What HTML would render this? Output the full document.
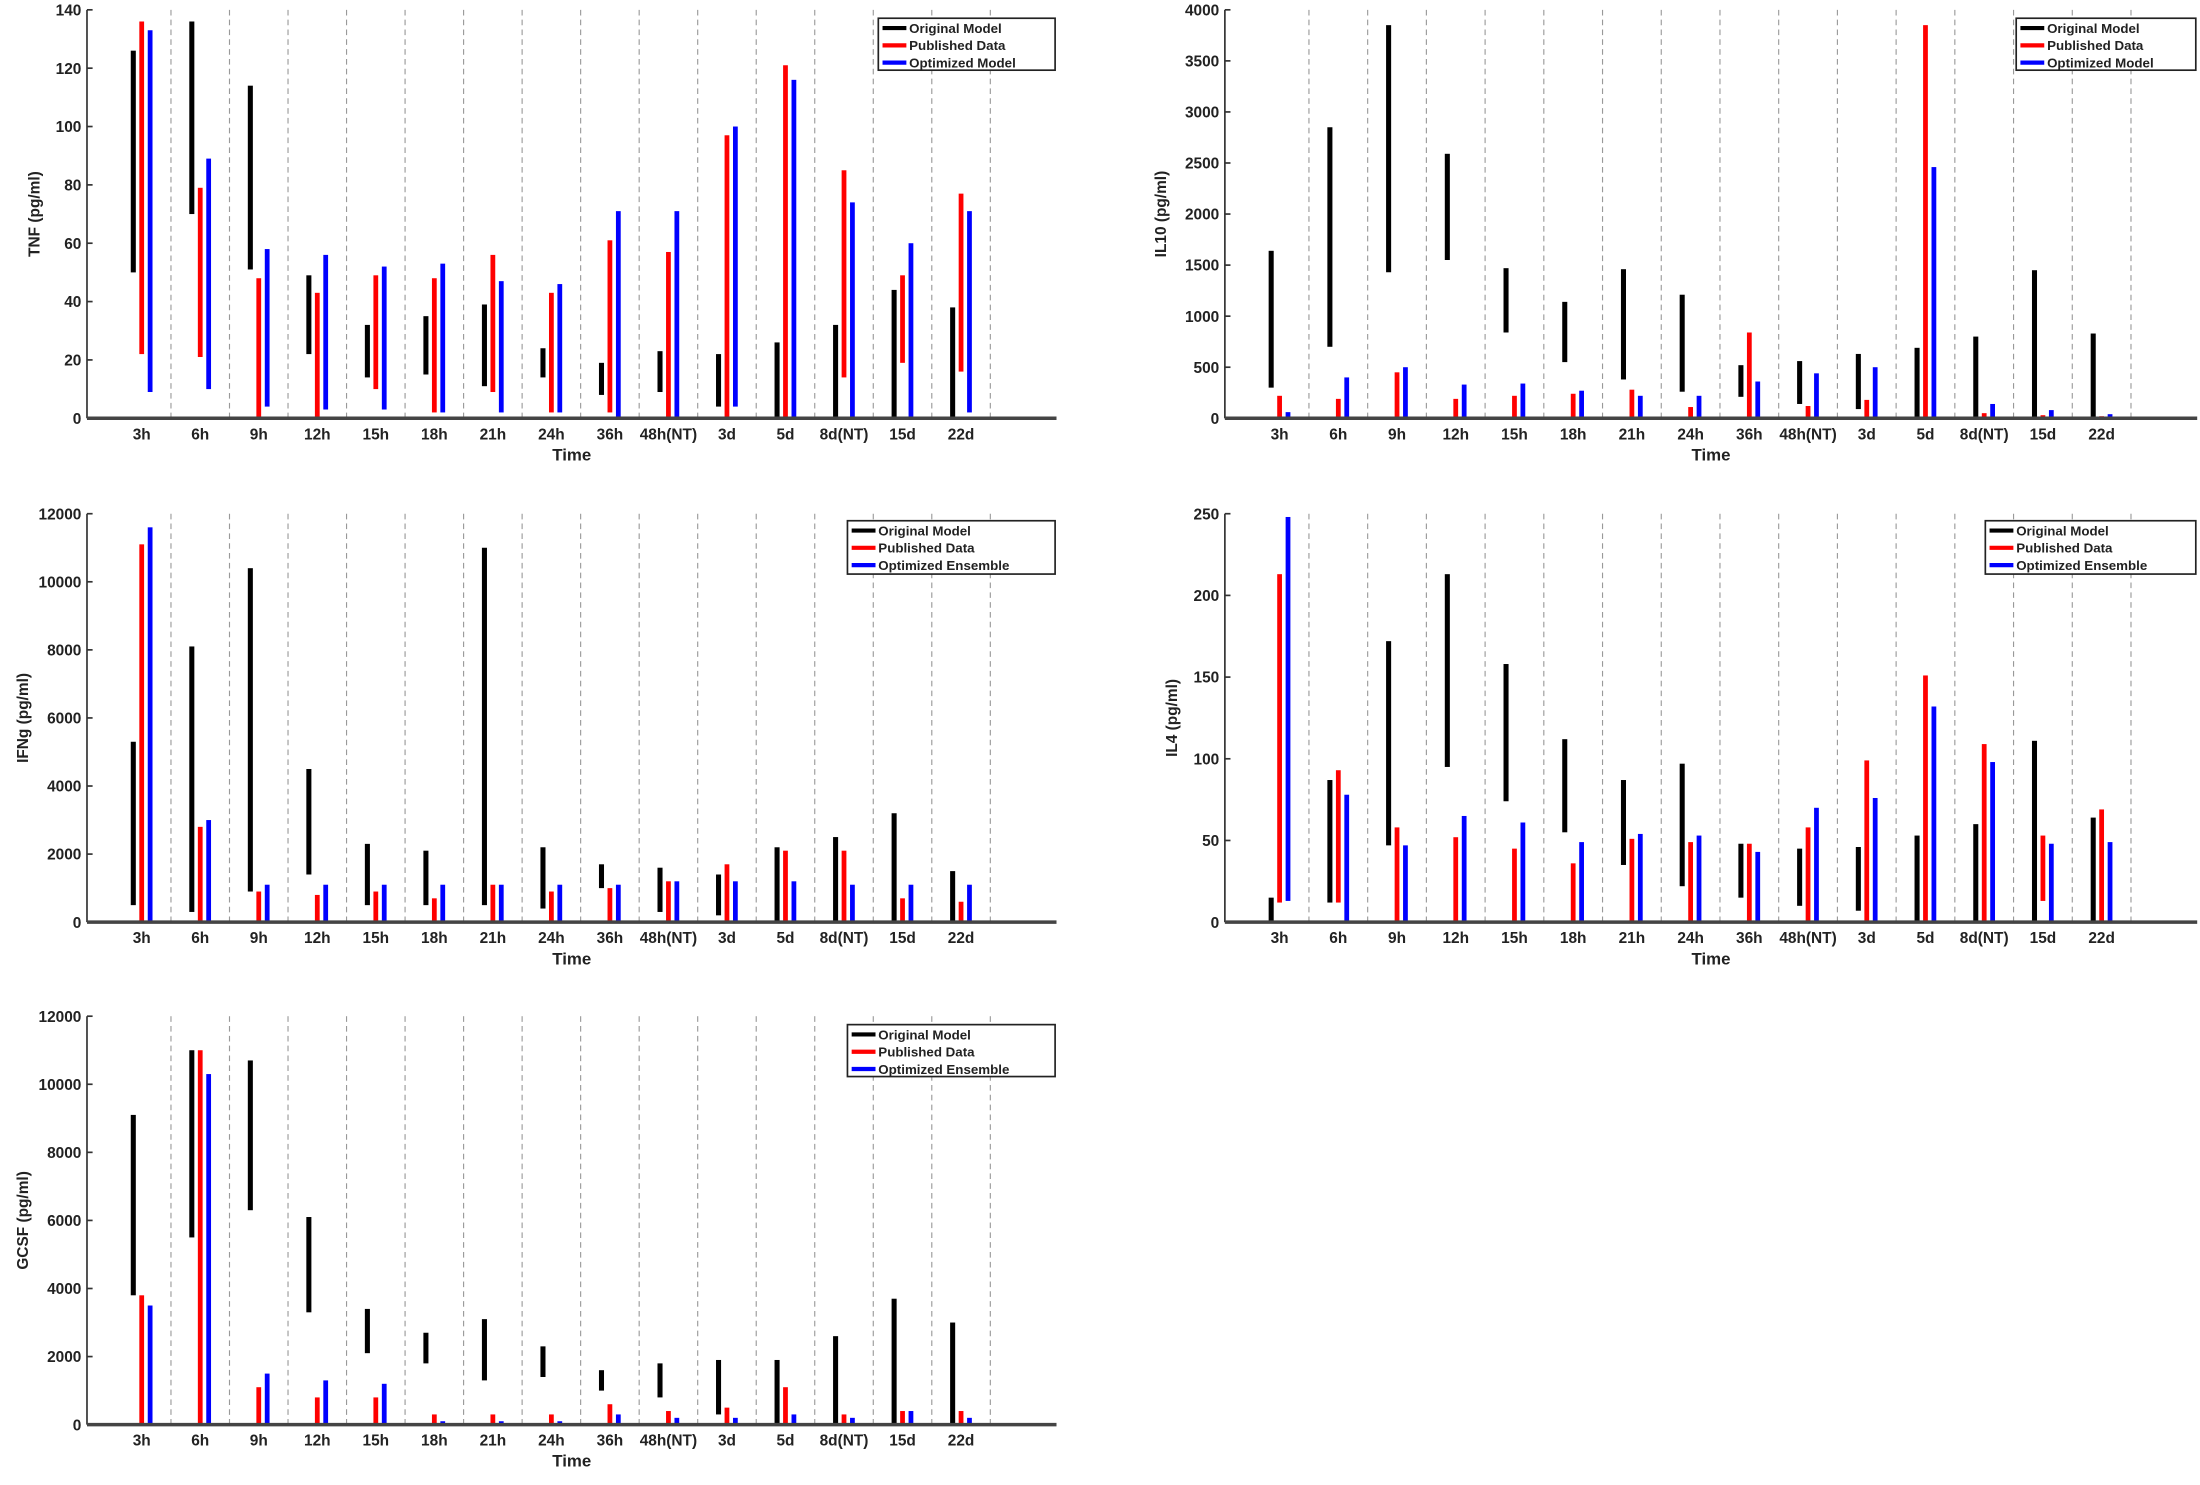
<!DOCTYPE html>
<html><head><meta charset="utf-8"><style>
html,body{margin:0;padding:0;background:#fff;width:2200px;height:1485px;overflow:hidden}
svg{display:block}
text{font-family:"Liberation Sans",sans-serif;font-weight:bold;fill:#222}
</style></head><body>
<svg id="s" width="2200" height="1485" viewBox="0 0 1568 1058" preserveAspectRatio="none" xmlns="http://www.w3.org/2000/svg"></svg>
<script>
const cats=["3h","6h","9h","12h","15h","18h","21h","24h","36h","48h(NT)","3d","5d","8d(NT)","15d","22d"];
const P=[
{x0:62,x1:753,y0:298,y1:7,max:140,step:20,lab:"TNF (pg/ml)",leg:[626,13,752,50],third:"Optimized Model",
 b:[[50,126],[70,136],[51,114],[22,49],[14,32],[15,35],[11,39],[14,24],[8,19],[9,23],[4,22],[0,26],[0,32],[0,44],[0,38]],
 r:[[22,136],[21,79],[0,48],[0,43],[10,49],[2,48],[9,56],[2,43],[2,61],[0,57],[0,97],[0,121],[14,85],[19,49],[16,77]],
 u:[[9,133],[10,89],[4,58],[3,56],[3,52],[2,53],[2,47],[2,46],[0,71],[0,71],[4,100],[0,116],[0,74],[0,60],[2,71]]},
{x0:873,x1:1566,y0:298,y1:7,max:4000,step:500,lab:"IL10 (pg/ml)",leg:[1437,13,1565,50],third:"Optimized Model",
 b:[[300,1640],[700,2850],[1430,3850],[1550,2590],[840,1470],[550,1140],[380,1460],[260,1210],[210,520],[140,560],[90,630],[0,690],[0,800],[0,1450],[0,830]],
 r:[[0,220],[0,190],[0,450],[0,190],[0,220],[0,240],[0,280],[0,110],[0,840],[0,120],[0,180],[0,3850],[0,50],[0,30],[0,20]],
 u:[[0,60],[0,400],[0,500],[0,330],[0,340],[0,270],[0,220],[0,220],[0,360],[0,440],[0,500],[0,2460],[0,140],[0,80],[0,40]]},
{x0:62,x1:753,y0:657,y1:366,max:12000,step:2000,lab:"IFNg (pg/ml)",leg:[604,371,752,409],third:"Optimized Ensemble",
 b:[[500,5300],[300,8100],[900,10400],[1400,4500],[500,2300],[500,2100],[500,11000],[400,2200],[1000,1700],[300,1600],[200,1400],[0,2200],[0,2500],[0,3200],[0,1500]],
 r:[[0,11100],[0,2800],[0,900],[0,800],[0,900],[0,700],[0,1100],[0,900],[0,1000],[0,1200],[0,1700],[0,2100],[0,2100],[0,700],[0,600]],
 u:[[0,11600],[0,3000],[0,1100],[0,1100],[0,1100],[0,1100],[0,1100],[0,1100],[0,1100],[0,1200],[0,1200],[0,1200],[0,1100],[0,1100],[0,1100]]},
{x0:873,x1:1566,y0:657,y1:366,max:250,step:50,lab:"IL4 (pg/ml)",leg:[1415,371,1565,409],third:"Optimized Ensemble",
 b:[[0,15],[12,87],[47,172],[95,213],[74,158],[55,112],[35,87],[22,97],[15,48],[10,45],[7,46],[0,53],[0,60],[0,111],[0,64]],
 r:[[12,213],[12,93],[0,58],[0,52],[0,45],[0,36],[0,51],[0,49],[0,48],[0,58],[0,99],[0,151],[0,109],[13,53],[0,69]],
 u:[[13,248],[0,78],[0,47],[0,65],[0,61],[0,49],[0,54],[0,53],[0,43],[0,70],[0,76],[0,132],[0,98],[0,48],[0,49]]},
{x0:62,x1:753,y0:1015,y1:724,max:12000,step:2000,lab:"GCSF (pg/ml)",leg:[604,730,752,767],third:"Optimized Ensemble",
 b:[[3800,9100],[5500,11000],[6300,10700],[3300,6100],[2100,3400],[1800,2700],[1300,3100],[1400,2300],[1000,1600],[800,1800],[300,1900],[0,1900],[0,2600],[0,3700],[0,3000]],
 r:[[0,3800],[0,11000],[0,1100],[0,800],[0,800],[0,300],[0,300],[0,300],[0,600],[0,400],[0,500],[0,1100],[0,300],[0,400],[0,400]],
 u:[[0,3500],[0,10300],[0,1500],[0,1300],[0,1200],[0,100],[0,100],[0,100],[0,300],[0,200],[0,200],[0,300],[0,200],[0,400],[0,200]]}
];
let h="";
for(const p of P){
  const Y=v=>p.y0-(v/p.max)*(p.y0-p.y1);
  const c0=p.x0+39, sp=(p.x1-p.x0-82)/14.6;
  for(let i=0;i<15;i++){const x=c0+sp*i+sp/2;h+=`<line x1="${x}" y1="${p.y1}" x2="${x}" y2="${p.y0}" stroke="#999" stroke-width="0.8" stroke-dasharray="4,3"/>`;}
  h+=`<line x1="${p.x0}" y1="${p.y1}" x2="${p.x0}" y2="${p.y0}" stroke="#333" stroke-width="1.2"/>`;
  for(let v=0;v<=p.max;v+=p.step){const y=Y(v);h+=`<line x1="${p.x0}" y1="${y}" x2="${p.x0+4}" y2="${y}" stroke="#333" stroke-width="1.2"/><text x="${p.x0-4}" y="${y+4}" font-size="11" text-anchor="end">${v}</text>`;}
  const lx=p.x0-(p.max>=1000?42:34), ly=(p.y0+p.y1)/2;
  h+=`<text x="${lx}" y="${ly}" font-size="11" text-anchor="middle" transform="rotate(-90 ${lx} ${ly})">${p.lab}</text>`;
  const bar=(x,a,b,col,w)=>{h+=`<rect x="${x-w/2}" y="${Y(b)}" width="${w}" height="${Math.max(0.5,Y(a)-Y(b))}" fill="${col}"/>`;};
  for(let i=0;i<15;i++){const cx=c0+sp*i;
    bar(cx-6,p.b[i][0],p.b[i][1],"#000",3.6);
    bar(cx,p.r[i][0],p.r[i][1],"#f00",3.4);
    bar(cx+6,p.u[i][0],p.u[i][1],"#00f",3.4);
    h+=`<text x="${cx}" y="${p.y0+15}" font-size="11" text-anchor="middle">${cats[i]}</text>`;
  }
  h+=`<line x1="${p.x0}" y1="${p.y0}" x2="${p.x1}" y2="${p.y0}" stroke="#444" stroke-width="2.5"/>`;
  h+=`<text x="${(p.x0+p.x1)/2}" y="${p.y0+30}" font-size="12" text-anchor="middle">Time</text>`;
  const [a,b,c,d]=p.leg;
  h+=`<rect x="${a}" y="${b}" width="${c-a}" height="${d-b}" fill="#fff" stroke="#222" stroke-width="1.2"/>`;
  const items=[["Original Model","#000"],["Published Data","#f00"],[p.third,"#00f"]];
  items.forEach((it,k)=>{const yy=b+7+k*12.3;h+=`<line x1="${a+3}" y1="${yy}" x2="${a+20}" y2="${yy}" stroke="${it[1]}" stroke-width="3"/><text x="${a+22}" y="${yy+3.5}" font-size="9.5">${it[0]}</text>`;});
}
document.getElementById("s").innerHTML=h;
</script>
</body></html>
